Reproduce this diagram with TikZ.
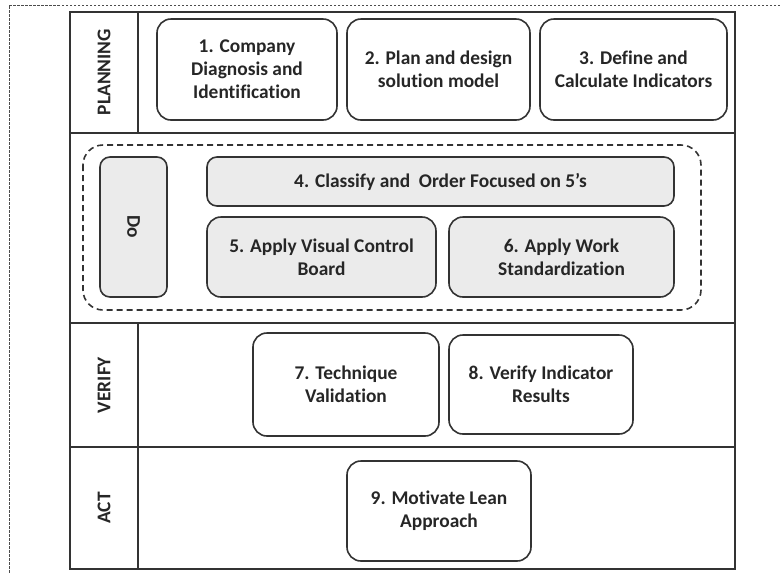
\documentclass[tikz,border=0pt]{standalone}
\usepackage{fontspec}
\setmainfont{Carlito}[Ligatures=NoCommon]
\tikzset{
  stage/.style={draw=black!80, line width=1.6pt, rounded corners=14pt, align=center,
    font=\bfseries\fontsize{19.4}{23}\selectfont, text=black!85, inner sep=0pt},
  stagegrey/.style={stage, fill=black!8},
  phase/.style={font=\bfseries\fontsize{19.4}{23}\selectfont, text=black!85}
}
\begin{document}
\begin{tikzpicture}[x=1pt,y=-1pt]
    \useasboundingbox (0,0) rectangle (780,574);
    \draw [black!70, line width=0.6pt, dash pattern=on 2.5pt off 1.5pt] (780,5)--(9,5)--(9,574);
    \draw [black!80, line width=1.6pt] (70,12) rectangle (735,569);
    \draw [black!80, line width=1.6pt] (70,133)--(735,133);
    \draw [black!80, line width=1.6pt] (70,323)--(735,323);
    \draw [black!80, line width=1.6pt] (70,447)--(735,447);
    \draw [black!80, line width=1.6pt] (138,12)--(138,133);
    \draw [black!80, line width=1.6pt] (138,323)--(138,569);
    \node [phase, rotate=90] (planning) at (104,72) {PLANNING};
    \node [phase, rotate=90] (verify) at (104,385) {VERIFY};
    \node [phase, rotate=90] (act) at (104,508) {ACT};
    \draw [black!80, line width=1.6pt, dashed, dash pattern=on 6pt off 4pt, rounded corners=20pt] (83,145) rectangle (701,310);
    \node [stage, minimum width=180, minimum height=101] (company) at (247,69.5) {1. Company\\Diagnosis and\\Identification};
    \node [stage, minimum width=183, minimum height=101] (plan) at (438.5,69.5) {2. Plan and design\\solution model};
    \node [stage, minimum width=187, minimum height=101] (indicators) at (633.5,69.5) {3. Define and\\Calculate Indicators};
    \node [stagegrey, minimum width=67, minimum height=140, rounded corners=10pt] (do) at (133.5,227) {};
    \node [phase, rotate=-90] (dolabel) at (do.center) {Do};
    \node [stagegrey, minimum width=467, minimum height=49, rounded corners=10pt] (classify) at (440.5,181.5) {4. Classify and\ \ Order Focused on 5's};
    \node [stagegrey, minimum width=229, minimum height=80] (visual) at (321.5,257) {5. Apply Visual Control\\Board};
    \node [stagegrey, minimum width=225, minimum height=80] (standard) at (561.5,257) {6. Apply Work\\Standardization};
    \node [stage, minimum width=186, minimum height=103] (validation) at (346,384.5) {7. Technique\\Validation};
    \node [stage, minimum width=184, minimum height=99] (results) at (541,384.5) {8. Verify Indicator\\Results};
    \node [stage, minimum width=184, minimum height=100] (lean) at (439,511) {9. Motivate Lean\\Approach};
  \end{tikzpicture}
\end{document}
